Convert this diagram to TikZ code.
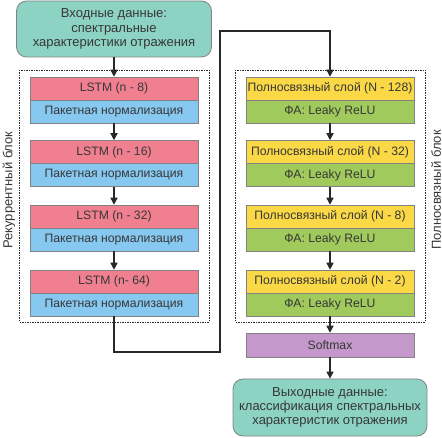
\documentclass[tikz,border=0pt]{standalone}
\usepackage{fontspec}
\setmainfont{Liberation Sans}
\usetikzlibrary{arrows.meta}
\definecolor{inc}{RGB}{140,211,196}
\definecolor{lstmc}{RGB}{240,128,144}
\definecolor{bnc}{RGB}{135,200,240}
\definecolor{fcc}{RGB}{250,216,70}
\definecolor{reluc}{RGB}{160,202,92}
\definecolor{smc}{RGB}{196,152,202}
\definecolor{edgec}{RGB}{130,130,130}
\definecolor{txtc}{RGB}{55,55,55}
\definecolor{linec}{RGB}{40,40,40}
\tikzset{
  layer/.style={draw=edgec, line width=0.5pt, minimum width=168pt, minimum height=23pt, inner sep=0pt, font=\fontsize{12.2}{14}\selectfont, text=txtc},
  iobox/.style={draw=edgec, line width=0.8pt, fill=inc, rounded corners=10pt, minimum width=195pt, minimum height=56pt, inner sep=0pt, align=center, font=\fontsize{13}{14.3}\selectfont, text=txtc},
  block/.style={draw=linec, line width=0.8pt, dash pattern=on 1.5pt off 1pt},
  conn/.style={draw=linec, line width=1.4pt, -{Triangle[length=7pt,width=7pt]}},
  sidelabel/.style={rotate=90, font=\fontsize{13}{15}\selectfont, text=txtc}
}
\begin{document}
\begin{tikzpicture}[x=1pt,y=-1pt]
\useasboundingbox (0,0) rectangle (442,438);
% blocks
\draw[block] (19,70) rectangle (209,322);
\draw[block] (235,70) rectangle (425,322);
\node[sidelabel] (lbl) at (9,190) {Рекуррентный блок};
\node[sidelabel] (rbl) at (436,190) {Полносвязный блок};
% input
\node[iobox] (in) at (114,29) {Входные данные:\\спектральные\\характеристики отражения};
% left column
\node[layer, fill=lstmc] (l1) at (114,88.5) {LSTM (n - 8)};
\node[layer, fill=bnc] (b1) at (114,111.5) {Пакетная нормализация};
\node[layer, fill=lstmc] (l2) at (114,152) {LSTM (n - 16)};
\node[layer, fill=bnc] (b2) at (114,175) {Пакетная нормализация};
\node[layer, fill=lstmc] (l3) at (114,216.5) {LSTM (n - 32)};
\node[layer, fill=bnc] (b3) at (114,239.5) {Пакетная нормализация};
\node[layer, fill=lstmc] (l4) at (114,281.5) {LSTM (n- 64)};
\node[layer, fill=bnc] (b4) at (114,304.5) {Пакетная нормализация};
% right column
\node[layer, fill=fcc] (f1) at (330,88.5) {Полносвязный слой (N - 128)};
\node[layer, fill=reluc] (r1) at (330,111.5) {ФА: Leaky ReLU};
\node[layer, fill=fcc] (f2) at (330,152) {Полносвязный слой (N - 32)};
\node[layer, fill=reluc] (r2) at (330,175) {ФА: Leaky ReLU};
\node[layer, fill=fcc] (f3) at (330,216.5) {Полносвязный слой (N - 8)};
\node[layer, fill=reluc] (r3) at (330,239.5) {ФА: Leaky ReLU};
\node[layer, fill=fcc] (f4) at (330,281.5) {Полносвязный слой (N - 2)};
\node[layer, fill=reluc] (r4) at (330,304.5) {ФА: Leaky ReLU};
\node[layer, fill=smc, minimum height=24pt] (sm) at (330,345) {Softmax};
\node[iobox, minimum width=194pt, minimum height=57pt] (out) at (330,407.5) {Выходные данные:\\классификация спектральных\\характеристик отражения};
% connectors
\draw[conn] (in) -- (l1);
\draw[conn] (b1) -- (l2);
\draw[conn] (b2) -- (l3);
\draw[conn] (b3) -- (l4);
\coordinate (c1) at (114,352);
\coordinate (c2) at (220,352);
\coordinate (c3) at (220,31);
\coordinate (c4) at (330,31);
\draw[conn] (b4.south) -- (c1) -- (c2) -- (c3) -- (c4) -- (f1.north);
\draw[conn] (r1) -- (f2);
\draw[conn] (r2) -- (f3);
\draw[conn] (r3) -- (f4);
\draw[conn] (r4) -- (sm);
\draw[conn] (sm) -- (out);
\end{tikzpicture}
\end{document}
